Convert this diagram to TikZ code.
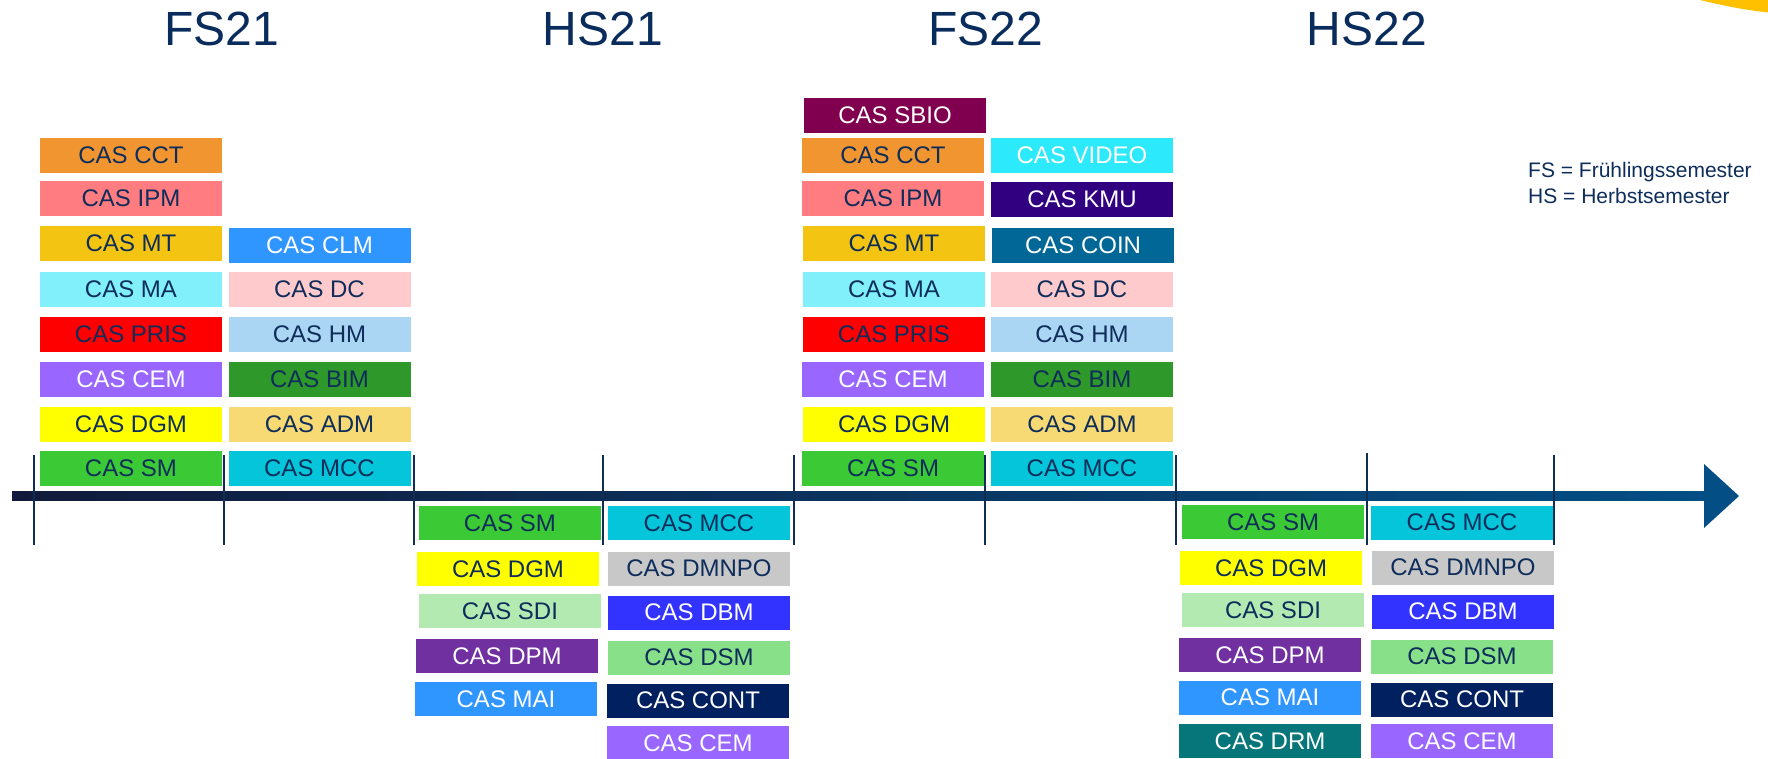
\documentclass[tikz,border=0pt]{standalone}
\usepackage{fontspec}
\setmainfont{Liberation Sans}
\usetikzlibrary{positioning, arrows.meta}
\usepackage{xcolor}
\definecolor{textnavy}{HTML}{0E2D5A}
\definecolor{titlenavy}{HTML}{0A2C5C}
\definecolor{ticknavy}{HTML}{0E2E55}
\definecolor{axisdark}{HTML}{111A3A}
\definecolor{axisblue}{HTML}{034E84}
\definecolor{sunyellow}{HTML}{FFC000}
\definecolor{casorange}{HTML}{F09530}
\definecolor{cassalmon}{HTML}{FF7C80}
\definecolor{casgold}{HTML}{F3C512}
\definecolor{casaqua}{HTML}{81F0FB}
\definecolor{casred}{HTML}{FF0000}
\definecolor{casviolet}{HTML}{9966FF}
\definecolor{casyellow}{HTML}{FFFF00}
\definecolor{casgreen}{HTML}{3BC935}
\definecolor{casblue}{HTML}{2F96FF}
\definecolor{casrose}{HTML}{FFCACB}
\definecolor{cassky}{HTML}{ABD6F3}
\definecolor{casforest}{HTML}{2E982A}
\definecolor{cassand}{HTML}{F7DA74}
\definecolor{cascyan}{HTML}{04C5D9}
\definecolor{casplum}{HTML}{80004F}
\definecolor{casvideo}{HTML}{2CE9FB}
\definecolor{casindigo}{HTML}{300080}
\definecolor{caspetrol}{HTML}{016797}
\definecolor{casmint}{HTML}{B2EAB2}
\definecolor{casgray}{HTML}{C8C8C8}
\definecolor{casultra}{HTML}{3333FF}
\definecolor{caspurple}{HTML}{7030A0}
\definecolor{caslime}{HTML}{88E088}
\definecolor{casdeep}{HTML}{002060}
\definecolor{casteal}{HTML}{07767A}

\begin{document}
\begin{tikzpicture}[x=1pt, y=-1pt,
    casbox/.style={minimum width=182pt, minimum height=35pt, inner sep=0pt,
      text=textnavy, font=\fontsize{24}{28}\selectfont},
    lowbox/.style={casbox, minimum height=34pt},
    whitetext/.style={text=white},
    semtitle/.style={text=titlenavy, font=\fontsize{48}{58}\selectfont, anchor=base},
    legendtext/.style={text=textnavy, font=\fontsize{21}{25}\selectfont, anchor=base west, inner sep=0pt},
    tickline/.style={ticknavy, line width=2pt}]
  \clip (0,0) rectangle (1768,758);
  \fill[sunyellow] (1700,0) .. controls (1725,6) and (1745,10) .. (1768,12.5) -- (1768,0) -- cycle;

  \node[semtitle] (fs21) at (222,45) {FS21};
  \node[semtitle] (hs21) at (603,45) {HS21};
  \node[semtitle] (fs22) at (986,45) {FS22};
  \node[semtitle] (hs22) at (1367,45) {HS22};

  \node[legendtext] (fsnote) at (1528,177) {FS = Frühlingssemester};
  \node[legendtext] (hsnote) at (1528,203) {HS = Herbstsemester};

  \node[casbox, fill=casorange] (fs21-cct) at (131,155.5) {CAS CCT};
  \node[casbox, fill=cassalmon] (fs21-ipm) at (131,198.5) {CAS IPM};
  \node[casbox, fill=casgold] (fs21-mt) at (131,243.5) {CAS MT};
  \node[casbox, fill=casaqua] (fs21-ma) at (131,289) {CAS MA};
  \node[casbox, fill=casred] (fs21-pris) at (131,334.5) {CAS PRIS};
  \node[casbox, fill=casviolet, whitetext] (fs21-cem) at (131,379) {CAS CEM};
  \node[casbox, fill=casyellow] (fs21-dgm) at (131,424) {CAS DGM};
  \node[casbox, fill=casgreen] (fs21-sm) at (131,468.5) {CAS SM};

  \node[casbox, fill=casblue, whitetext] (fs21-clm) at (319.5,245) {CAS CLM};
  \node[casbox, fill=casrose] (fs21-dc) at (319.5,289) {CAS DC};
  \node[casbox, fill=cassky] (fs21-hm) at (319.5,334.5) {CAS HM};
  \node[casbox, fill=casforest] (fs21-bim) at (319.5,379.5) {CAS BIM};
  \node[casbox, fill=cassand] (fs21-adm) at (319.5,424) {CAS ADM};
  \node[casbox, fill=cascyan] (fs21-mcc) at (319.5,468.5) {CAS MCC};

  \node[lowbox, fill=casgreen] (hs21-sm) at (510,523) {CAS SM};
  \node[lowbox, fill=casyellow] (hs21-dgm) at (508,569) {CAS DGM};
  \node[lowbox, fill=casmint] (hs21-sdi) at (510,611) {CAS SDI};
  \node[lowbox, fill=caspurple, whitetext] (hs21-dpm) at (507,656) {CAS DPM};
  \node[lowbox, fill=casblue, whitetext] (hs21-mai) at (506,699) {CAS MAI};

  \node[lowbox, fill=cascyan] (hs21-mcc) at (699,523) {CAS MCC};
  \node[lowbox, fill=casgray] (hs21-dmnpo) at (699,568.5) {CAS DMNPO};
  \node[lowbox, fill=casultra, whitetext] (hs21-dbm) at (699,612.5) {CAS DBM};
  \node[lowbox, fill=caslime] (hs21-dsm) at (699,657.5) {CAS DSM};
  \node[lowbox, fill=casdeep, whitetext] (hs21-cont) at (698,700.5) {CAS CONT};
  \node[lowbox, fill=casviolet, whitetext] (hs21-cem) at (698,743) {CAS CEM};

  \node[casbox, fill=casplum, whitetext] (fs22-sbio) at (895,115) {CAS SBIO};
  \node[casbox, fill=casorange] (fs22-cct) at (893,155.5) {CAS CCT};
  \node[casbox, fill=cassalmon] (fs22-ipm) at (893,198.5) {CAS IPM};
  \node[casbox, fill=casgold] (fs22-mt) at (894,243.5) {CAS MT};
  \node[casbox, fill=casaqua] (fs22-ma) at (894,289) {CAS MA};
  \node[casbox, fill=casred] (fs22-pris) at (894,334.5) {CAS PRIS};
  \node[casbox, fill=casviolet, whitetext] (fs22-cem) at (893,379) {CAS CEM};
  \node[casbox, fill=casyellow] (fs22-dgm) at (894,424) {CAS DGM};
  \node[casbox, fill=casgreen] (fs22-sm) at (893,468.5) {CAS SM};

  \node[casbox, fill=casvideo, whitetext] (fs22-video) at (1082,155.5) {CAS VIDEO};
  \node[casbox, fill=casindigo, whitetext] (fs22-kmu) at (1082,199) {CAS KMU};
  \node[casbox, fill=caspetrol, whitetext] (fs22-coin) at (1083,245) {CAS COIN};
  \node[casbox, fill=casrose] (fs22-dc) at (1082,289) {CAS DC};
  \node[casbox, fill=cassky] (fs22-hm) at (1082,334.5) {CAS HM};
  \node[casbox, fill=casforest] (fs22-bim) at (1082,379.5) {CAS BIM};
  \node[casbox, fill=cassand] (fs22-adm) at (1082,424) {CAS ADM};
  \node[casbox, fill=cascyan] (fs22-mcc) at (1082,468.5) {CAS MCC};

  \node[lowbox, fill=casgreen] (hs22-sm) at (1273,522) {CAS SM};
  \node[lowbox, fill=casyellow] (hs22-dgm) at (1271,568) {CAS DGM};
  \node[lowbox, fill=casmint] (hs22-sdi) at (1273,610) {CAS SDI};
  \node[lowbox, fill=caspurple, whitetext] (hs22-dpm) at (1270,655) {CAS DPM};
  \node[lowbox, fill=casblue, whitetext] (hs22-mai) at (1270,697.5) {CAS MAI};
  \node[lowbox, fill=casteal, whitetext] (hs22-drm) at (1270,741) {CAS DRM};

  \node[lowbox, fill=cascyan] (hs22-mcc) at (1462,522.5) {CAS MCC};
  \node[lowbox, fill=casgray] (hs22-dmnpo) at (1463,567.5) {CAS DMNPO};
  \node[lowbox, fill=casultra, whitetext] (hs22-dbm) at (1463,611.5) {CAS DBM};
  \node[lowbox, fill=caslime] (hs22-dsm) at (1462,656.5) {CAS DSM};
  \node[lowbox, fill=casdeep, whitetext] (hs22-cont) at (1462,699.5) {CAS CONT};
  \node[lowbox, fill=casviolet, whitetext] (hs22-cem) at (1462,741) {CAS CEM};

  \shade[left color=axisdark, right color=axisblue] (12,491.5) rectangle (1706,500.5);
  \fill[axisblue] (1704,464) -- (1739,496) -- (1704,528) -- cycle;
  \draw[tickline] (34,455) -- (34,545) (224,455) -- (224,545) (414,455) -- (414,545)
    (603,455) -- (603,545) (794,455) -- (794,545) (985,455) -- (985,545)
    (1176,455) -- (1176,545) (1367,453) -- (1367,545) (1554,455) -- (1554,545);
\end{tikzpicture}
\end{document}
